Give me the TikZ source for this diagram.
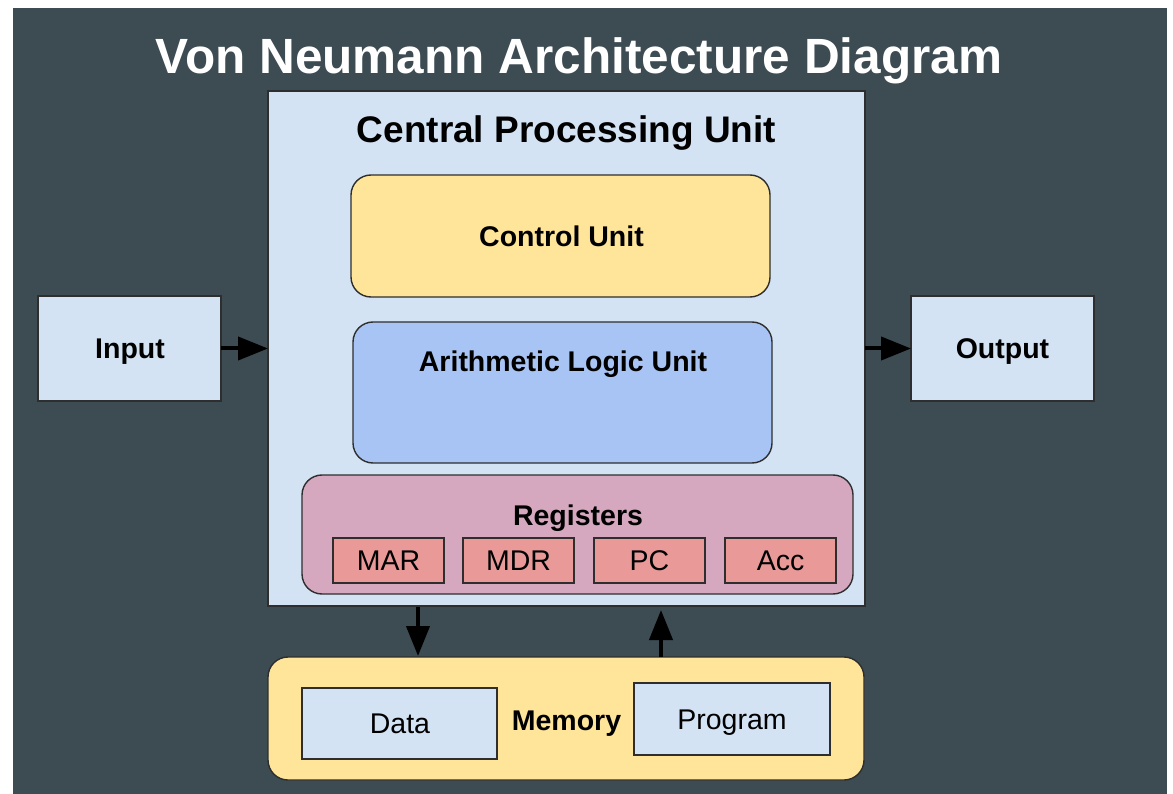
\documentclass[tikz,border=0pt]{standalone}
\usepackage{fontspec}
\setmainfont{Liberation Sans}
\usetikzlibrary{arrows.meta}
\definecolor{bgdark}{HTML}{3D4B53}
\definecolor{lightblue}{HTML}{D3E3F3}
\definecolor{cuyellow}{HTML}{FFE599}
\definecolor{alublue}{HTML}{A8C4F4}
\definecolor{regpink}{HTML}{D5A8C0}
\definecolor{cellred}{HTML}{EA9999}
\definecolor{edge}{HTML}{2E2E2E}
\tikzset{
  box/.style={draw=edge, line width=1.4pt, inner sep=0pt, outer sep=0pt},
  rbox/.style={box, rounded corners=20pt},
  txt/.style={anchor=base, inner sep=0pt, font=\fontsize{28.5}{34}\selectfont, text=black},
  btxt/.style={txt, font=\fontsize{28.5}{34}\selectfont\bfseries},
  arr/.style={line width=4pt, -{Triangle[length=30pt,width=23pt]}, black},
}
\begin{document}
\begin{tikzpicture}[x=1pt,y=-1pt]
\useasboundingbox (0,0) rectangle (1173,794);
\fill[white] (0,0) rectangle (1173,794);
\fill[bgdark] (13,8) rectangle (1167,794);
% title
\node[anchor=base, inner sep=0pt, text=white, font=\fontsize{49.5}{56}\selectfont\bfseries] (title) at (579,74) {Von Neumann Architecture Diagram};
% CPU
\node[box, fill=lightblue, minimum width=597pt, minimum height=515pt] (cpu) at (566.5,348.5) {};
\node[anchor=base, inner sep=0pt, font=\fontsize{37}{44}\selectfont\bfseries] (cputitle) at (566.5,143) {Central Processing Unit};
% Control unit
\node[rbox, fill=cuyellow, minimum width=419pt, minimum height=122pt] (cu) at (560.5,236) {};
\node[btxt] (cutxt) at (561.5,247) {Control Unit};
% ALU
\node[rbox, fill=alublue, minimum width=419pt, minimum height=141pt] (alu) at (562.5,392.5) {};
\node[btxt] (alutxt) at (563,371) {Arithmetic Logic Unit};
% Registers
\node[rbox, fill=regpink, minimum width=551pt, minimum height=119pt] (reg) at (577.5,534.5) {};
\node[btxt] (regtxt) at (578,525) {Registers};
\foreach \nm/\cx/\lb in {mar/388.5/MAR, mdr/518.5/MDR, pc/649.5/PC, acc/780.5/Acc}{
  \node[box, fill=cellred, minimum width=111pt, minimum height=45pt] (\nm) at (\cx,560.5) {};
  \node[txt] (\nm txt) at (\cx,570.5) {\lb};
}
% Input / Output
\node[box, fill=lightblue, minimum width=183pt, minimum height=105pt] (input) at (129.5,348.5) {};
\node[btxt] (inputtxt) at (130,359) {Input};
\node[box, fill=lightblue, minimum width=183pt, minimum height=105pt] (output) at (1002.5,348.5) {};
\node[btxt] (outputtxt) at (1002.5,359) {Output};
% Memory
\node[rbox, fill=cuyellow, minimum width=596pt, minimum height=123pt] (mem) at (566,718.5) {};
\node[btxt] (memtxt) at (566.5,730) {Memory};
\node[box, fill=lightblue, minimum width=195pt, minimum height=71pt] (data) at (399.5,723.5) {};
\node[txt] (datatxt) at (400,733.5) {Data};
\node[box, fill=lightblue, minimum width=196pt, minimum height=72pt] (prog) at (732,719) {};
\node[txt] (progtxt) at (732,729.5) {Program};
% arrows
\coordinate (dnx) at (418,0);
\coordinate (upx) at (661,0);
\draw[arr] (input.east) -- (cpu.west);
\draw[arr] (cpu.east) -- (output.west);
\draw[arr, shorten <=1pt, shorten >=1pt] (cpu.south -| dnx) -- (mem.north -| dnx);
\draw[arr, shorten >=4pt] (mem.north -| upx) -- (cpu.south -| upx);
\end{tikzpicture}
\end{document}
